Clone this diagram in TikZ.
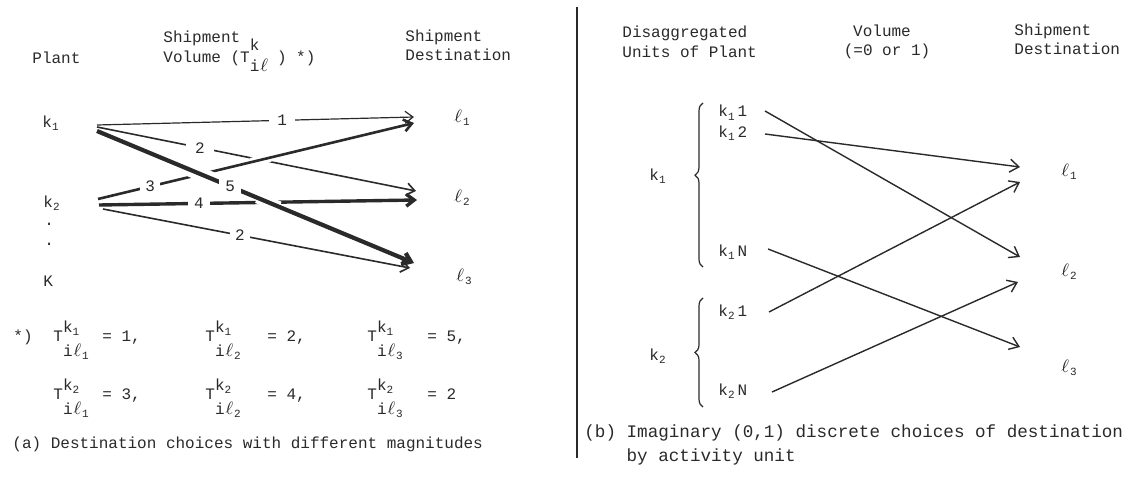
\documentclass[tikz,border=0pt]{standalone}
\usepackage{fontspec}
\setmainfont{Liberation Mono}
\usetikzlibrary{arrows.meta,decorations.pathreplacing,calc}
\definecolor{ink}{HTML}{2A2A2A}
\newcommand\sbs[1]{\makebox[0.6em][l]{\raisebox{-0.45ex}{\fontsize{5.5}{6}\selectfont #1}}}
\newcommand\ellc{\makebox[0.6em][c]{\fontsize{9}{10}\selectfont$\ell$}}
\newcommand\Tst[4]{T\rlap{\raisebox{#3}{#1}}\raisebox{-#4}{#2}}
\begin{document}
\begin{tikzpicture}[x=0.5pt,y=-0.5pt,
  font=\fontsize{8}{10}\selectfont,
  txt/.style={anchor=base west, inner sep=0pt, text=ink},
  lbl/.style={fill=white, inner xsep=3pt, inner ysep=1pt, text=ink},
  arr/.style={draw=ink, -{Straight Barb[length=4pt,width=6pt]}},
  rarr/.style={draw=ink, line width=0.7pt, -{Straight Barb[length=4.5pt,width=6.5pt]}},
  mask/.style={draw=white},
  bracestyle/.style={draw=ink, line width=0.6pt, decorate}]
\fill[white] (0,0) rectangle (1128,481);
\useasboundingbox (0,0) rectangle (1128,481);

% ---------- left panel ----------
\node[txt] (plant) at (32,64) {Plant};
\node[txt] (sv1) at (163,43) {Shipment};
\node[txt] (sv2) at (163,63) {Volume (\Tst{k}{i\ellc}{6pt}{4.5pt}\hspace{4pt}) *)};
\node[txt] (sd1) at (405,42) {Shipment};
\node[txt] (sd2) at (405,61) {Destination};

\node[txt] (k1) at (42,127) {k\sbs{1}};
\node[txt] (k2) at (43,207) {k\sbs{2}};
\node[txt] (dot1) at (44,225) {.};
\node[txt] (dot2) at (44,245) {.};
\node[txt] (K) at (43,286) {K};
\node[txt] (l1) at (453,122) {\ellc\sbs{1}};
\node[txt] (l2) at (453,202) {\ellc\sbs{2}};
\node[txt] (l3) at (455,281) {\ellc\sbs{3}};

\coordinate (a1) at (97,125);
\coordinate (a2) at (97,127);
\coordinate (a3) at (97,131);
\coordinate (b1) at (98,199);
\coordinate (b2) at (99,205);
\coordinate (b3) at (103,209);
\coordinate (t11) at (414,117);
\coordinate (t21) at (414,123);
\coordinate (t12) at (416,191);
\coordinate (t22) at (417,200);
\coordinate (t13) at (414,263);
\coordinate (t23) at (410,268);

\draw[arr, line width=0.6pt] (a1) -- node[lbl, pos=0.584, inner xsep=4pt] (n1) {1} (t11);
\draw[arr, line width=0.8pt] (a2) -- node[lbl, pos=0.323, inner xsep=4.5pt] (n2) {2} (t12);
\draw[arr, line width=0.8pt] (b3) -- node[lbl, pos=0.446, inner xsep=2.5pt] (n6) {2} (t23);
\draw[arr, line width=1.7pt] (b2) -- node[lbl, pos=0.314] (n4) {4} (t22);
\coordinate (x3) at (intersection of b1--t21 and a2--t12);
\draw[mask, line width=4.4pt] ($(x3)!5pt!(b1)$) -- ($(x3)!5pt!(t21)$);
\draw[arr, line width=1.3pt] (b1) -- node[lbl, pos=0.165, inner xsep=2.5pt] (n3) {3} (t21);
\coordinate (x1) at (intersection of a3--t13 and b1--t21);
\coordinate (x2) at (intersection of a3--t13 and b2--t22);
\draw[mask, line width=7pt] ($(x1)!6pt!(a3)$) -- ($(x1)!6pt!(t13)$);
\draw[mask, line width=5.6pt] ($(x2)!6pt!(a3)$) -- ($(x2)!6pt!(t13)$);
\draw[arr, line width=2.1pt] (a3) -- node[lbl, pos=0.42] (n5) {5} (t13);

% footnote
\node[txt] (star) at (13,341) {*)};
\node[txt] (f11) at (53,341) {\Tst{k\sbs{1}}{i\ellc\sbs{1}}{4.5pt}{7.5pt}};
\node[txt] (f11v) at (102,341) {= 1,};
\node[txt] (f12) at (205,341) {\Tst{k\sbs{1}}{i\ellc\sbs{2}}{4.5pt}{7.5pt}};
\node[txt] (f12v) at (267,341) {= 2,};
\node[txt] (f13) at (367,341) {\Tst{k\sbs{1}}{i\ellc\sbs{3}}{4.5pt}{7.5pt}};
\node[txt] (f13v) at (427,341) {= 5,};
\node[txt] (f21) at (53,399) {\Tst{k\sbs{2}}{i\ellc\sbs{1}}{4.5pt}{7.5pt}};
\node[txt] (f21v) at (102,399) {= 3,};
\node[txt] (f22) at (205,399) {\Tst{k\sbs{2}}{i\ellc\sbs{2}}{4.5pt}{7.5pt}};
\node[txt] (f22v) at (267,399) {= 4,};
\node[txt] (f23) at (367,399) {\Tst{k\sbs{2}}{i\ellc\sbs{3}}{4.5pt}{7.5pt}};
\node[txt] (f23v) at (427,399) {= 2};

\node[txt] (capa) at (12,448) {(a) Destination choices with different magnitudes};

% divider
\draw[ink, line width=0.8pt] (577,7) -- (577,458);

% ---------- right panel ----------
\node[txt] (dis1) at (622,38) {Disaggregated};
\node[txt] (dis2) at (622,58) {Units of Plant};
\node[txt, anchor=base] (vol1) at (882,37) {Volume};
\node[txt, anchor=base] (vol2) at (887,56) {(=0 or 1)};
\node[txt] (sd3) at (1014,36) {Shipment};
\node[txt] (sd4) at (1014,55) {Destination};

\node[txt] (rk1) at (649,180) {k\sbs{1}};
\node[txt] (rk2) at (649,360) {k\sbs{2}};
\node[txt] (u11) at (718,117) {k\sbs{1}1};
\node[txt] (u12) at (718,137) {k\sbs{1}2};
\node[txt] (u1n) at (718,256) {k\sbs{1}N};
\node[txt] (u21) at (718,316) {k\sbs{2}1};
\node[txt] (u2n) at (718,395) {k\sbs{2}N};
\node[txt] (r1) at (1060,176) {\ellc\sbs{1}};
\node[txt] (r2) at (1060,276) {\ellc\sbs{2}};
\node[txt] (r3) at (1060,372) {\ellc\sbs{3}};

\draw[bracestyle, decoration={brace, amplitude=4pt, aspect=0.56}] (703,267) -- (703,103);
\draw[bracestyle, decoration={brace, amplitude=4pt, aspect=0.5}] (703,407) -- (703,298);

\coordinate (s11) at (765,111);
\coordinate (s12) at (765,134);
\coordinate (s1n) at (768,249);
\coordinate (s21) at (769,312);
\coordinate (s2n) at (772,392);
\coordinate (e1a) at (1020,167);
\coordinate (e1b) at (1020,182);
\coordinate (e2a) at (1020,257);
\coordinate (e2b) at (1018,282);
\coordinate (e3a) at (1020,347);

\draw[rarr] (s11) -- (e2a);
\draw[rarr] (s12) -- (e1a);
\draw[rarr] (s1n) -- (e3a);
\draw[rarr] (s21) -- (e1b);
\draw[rarr] (s2n) -- (e2b);

\node[txt, font=\fontsize{8.8}{12}\selectfont] (capb1) at (584,437) {(b) Imaginary (0,1) discrete choices of destination};
\node[txt, font=\fontsize{8.8}{12}\selectfont] (capb2) at (584,461) {\phantom{(b)~}by activity unit};
\end{tikzpicture}
\end{document}
